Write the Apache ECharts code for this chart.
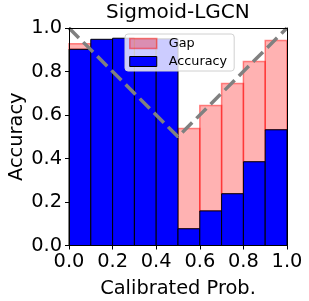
<!DOCTYPE html>
<html><head><meta charset="utf-8">
<script src="https://cdn.jsdelivr.net/npm/echarts@6/dist/echarts.min.js"></script>
<style>html,body{margin:0;padding:0;background:#fff}#c{width:309px;height:301px}</style>
</head><body><div id="c"></div>
<script>
const binStarts = [0.0, 0.1, 0.2, 0.3, 0.4, 0.5, 0.6, 0.7, 0.8, 0.9];
const accuracy  = [0.902, 0.948, 0.953, 0.950, 0.950, 0.077, 0.159, 0.238, 0.385, 0.532];
const gapTop    = [0.928, null, null, null, null, 0.538, 0.644, 0.745, 0.846, 0.942];
const diagonalX = [0.0, 0.5, 1.0];
const diagonalY = [1.0, 0.5, 1.0];
const tickLabels = ['0.0', '0.2', '0.4', '0.6', '0.8', '1.0'];
const binWidth = 0.1;

const FONT = 'DejaVu Sans';
const accData = binStarts.map((b, i) => [b, b + binWidth, 0, accuracy[i]]);
const gapData = binStarts.map((b, i) => gapTop[i] == null ? null : [b, b + binWidth, accuracy[i], gapTop[i]]).filter(d => d);
const lineData = diagonalX.map((x, i) => [x, diagonalY[i]]);

function rectItem(params, api) {
  const p0 = api.coord([api.value(0), api.value(3)]);
  const p1 = api.coord([api.value(1), api.value(2)]);
  return {
    type: 'rect',
    shape: { x: p0[0], y: p0[1], width: p1[0] - p0[0], height: p1[1] - p0[1] },
    style: api.style()
  };
}

const chart = echarts.init(document.getElementById('c'), null, { renderer: 'canvas' });
const axisCommon = {
  type: 'value', min: 0, max: 1, interval: 0.2, z: 5,
  splitLine: { show: false },
  axisLine: { show: true, lineStyle: { color: '#000', width: 1 } },
  axisTick: { show: true, length: 4, lineStyle: { color: '#000', width: 1 } },
  axisLabel: { color: '#000', fontFamily: FONT, fontSize: 19.4, margin: 7,
    formatter: v => tickLabels[Math.round(v / 0.2)] }
};
chart.setOption({
  animation: false,
  title: { text: 'Sigmoid-LGCN', left: 106, top: 3, padding: 0,
    textStyle: { fontFamily: FONT, fontSize: 20, fontWeight: 'normal', color: '#000' } },
  grid: { left: 69, right: 22, top: 28, bottom: 55.5, show: false, containLabel: false, outerBoundsMode: 'none' },
  legend: {
    orient: 'vertical', left: 125, top: 34, padding: [3, 7, 3, 4],
    itemWidth: 27, itemHeight: 10, itemGap: 5,
    backgroundColor: 'rgba(255,255,255,0.8)', borderColor: '#d0d0d0', borderWidth: 1, borderRadius: 3,
    textStyle: { fontFamily: FONT, fontSize: 12.8, color: '#000', padding: [0, 0, 0, 7] },
    data: [
      { name: 'Gap', icon: 'rect', itemStyle: { color: 'rgba(255,0,0,0.3)', borderColor: 'rgba(255,0,0,0.45)', borderWidth: 1.5 } },
      { name: 'Accuracy', icon: 'rect', itemStyle: { color: '#0000ff', borderColor: '#000', borderWidth: 1 } }
    ]
  },
  xAxis: [
    Object.assign({}, axisCommon, { position: 'bottom', name: 'Calibrated Prob.', nameLocation: 'middle', nameGap: 34,
      nameMoveOverlap: false,
      nameTextStyle: { fontFamily: FONT, fontSize: 19.4, color: '#000' } }),
    { type: 'value', min: 0, max: 1, position: 'top', z: 5, axisLine: { show: true, onZero: false, lineStyle: { color: '#000' } },
      axisTick: { show: false }, axisLabel: { show: false }, splitLine: { show: false } }
  ],
  yAxis: [
    Object.assign({}, axisCommon, { position: 'left', name: 'Accuracy', nameLocation: 'middle', nameGap: 43,
      nameMoveOverlap: false,
      nameTextStyle: { fontFamily: FONT, fontSize: 19.4, color: '#000' } }),
    { type: 'value', min: 0, max: 1, position: 'right', z: 5, axisLine: { show: true, onZero: false, lineStyle: { color: '#000' } },
      axisTick: { show: false }, axisLabel: { show: false }, splitLine: { show: false } }
  ],
  series: [
    { name: 'Gap', type: 'custom', renderItem: rectItem, z: 2,
      itemStyle: { color: 'rgba(255,0,0,0.3)', borderColor: 'rgba(255,0,0,0.45)', borderWidth: 1.5 },
      encode: { x: [0, 1], y: [2, 3] }, data: gapData },
    { name: 'Accuracy', type: 'custom', renderItem: rectItem, z: 3,
      itemStyle: { color: '#0000ff', borderColor: '#000', borderWidth: 1 },
      encode: { x: [0, 1], y: [2, 3] }, data: accData },
    { name: 'diag', type: 'line', z: 4, data: lineData, symbol: 'none', silent: true,
      lineStyle: { color: '#808080', width: 3.5, type: [14, 6] } }
  ]
});
</script></body></html>
